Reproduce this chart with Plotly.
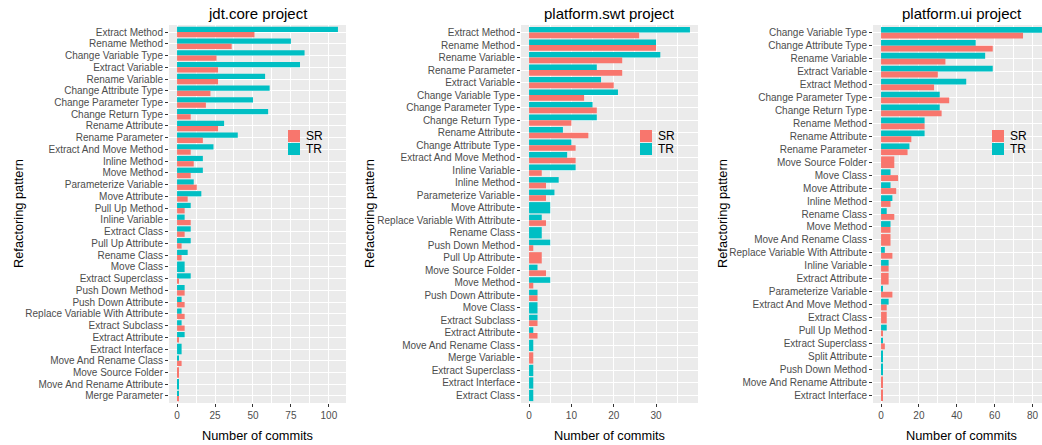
import plotly.graph_objects as go

W, H = 1042, 445
FONT = "Liberation Sans, Arial, Helvetica, sans-serif"
SR_COLOR = "#F8766D"
TR_COLOR = "#00BFC4"
PANEL_BG = "#EBEBEB"
TEXT_GREY = "#4D4D4D"
TICK_GREY = "#333333"

# ---- jdt.core ----
jdt_patterns = [
    "Extract Method", "Rename Method", "Change Variable Type", "Extract Variable",
    "Rename Variable", "Change Attribute Type", "Change Parameter Type",
    "Change Return Type", "Rename Attribute", "Rename Parameter",
    "Extract And Move Method", "Inline Method", "Move Method",
    "Parameterize Variable", "Move Attribute", "Pull Up Method", "Inline Variable",
    "Extract Class", "Pull Up Attribute", "Rename Class", "Move Class",
    "Extract Superclass", "Push Down Method", "Push Down Attribute",
    "Replace Variable With Attribute", "Extract Subclass", "Extract Attribute",
    "Extract Interface", "Move And Rename Class", "Move Source Folder",
    "Move And Rename Attribute", "Merge Parameter",
]
jdt_tr = [106, 75, 84, 81, 58, 61, 50, 60, 31, 40, 24, 17, 17, 11, 16, 9, 5,
          9, 9, 7, 5, 9, 5, 3, 3, 3, 5, 3, 1, None, 1, 1]
jdt_sr = [51, 36, 26, 27, 27, 22, 19, 9, 27, 17, 9, 11, 9, 13, 7, 5, 9,
          5, 3, 3, None, 1, 5, 5, 5, 5, 1, None, 3, 1, None, 1]

# ---- platform.swt ----
swt_patterns = [
    "Extract Method", "Rename Method", "Rename Variable", "Rename Parameter",
    "Extract Variable", "Change Variable Type", "Change Parameter Type",
    "Change Return Type", "Rename Attribute", "Change Attribute Type",
    "Extract And Move Method", "Inline Variable", "Inline Method",
    "Parameterize Variable", "Move Attribute", "Replace Variable With Attribute",
    "Rename Class", "Push Down Method", "Pull Up Attribute", "Move Source Folder",
    "Move Method", "Push Down Attribute", "Move Class", "Extract Subclass",
    "Extract Attribute", "Move And Rename Class", "Merge Variable",
    "Extract Superclass", "Extract Interface", "Extract Class",
]
swt_tr = [38, 30, 31, 16, 17, 21, 15, 16, 8, 10, 9, 11, 7, 6, 5, 3, 3, 5,
          None, 2, 5, 2, 2, 2, 1, 1, None, 1, 1, 1]
swt_sr = [26, 30, 22, 22, 20, 13, 16, 10, 14, 11, 11, 3, 4, 4, None, 4, None, 1,
          3, 4, 1, 2, None, 2, 2, None, 1, None, None, None]

# ---- platform.ui ----
ui_patterns = [
    "Change Variable Type", "Change Attribute Type", "Rename Variable",
    "Extract Variable", "Extract Method", "Change Parameter Type",
    "Change Return Type", "Rename Method", "Rename Attribute", "Rename Parameter",
    "Move Source Folder", "Move Class", "Move Attribute", "Inline Method",
    "Rename Class", "Move Method", "Move And Rename Class",
    "Replace Variable With Attribute", "Inline Variable", "Extract Attribute",
    "Parameterize Variable", "Extract And Move Method", "Extract Class",
    "Pull Up Method", "Extract Superclass", "Split Attribute", "Push Down Method",
    "Move And Rename Attribute", "Extract Interface",
]
ui_tr = [85, 50, 55, 59, 45, 31, 31, 23, 23, 15, None, 5, 5, 6, 3, 5, None, 2,
         4, None, 1, 4, None, 3, 1, 1, 1, None, None]
ui_sr = [75, 59, 34, 30, 28, 36, 32, 23, 16, 14, 7, 9, 8, 5, 7, 5, 5, 6,
         4, 4, 6, 3, 3, 1, 2, None, None, 1, 1]

panels = [
    dict(title="jdt.core project", patterns=jdt_patterns, tr=jdt_tr, sr=jdt_sr,
         dtick=25, left=169, ytitle_x=18),
    dict(title="platform.swt project", patterns=swt_patterns, tr=swt_tr, sr=swt_sr,
         dtick=10, left=521, ytitle_x=369),
    dict(title="platform.ui project", patterns=ui_patterns, tr=ui_tr, sr=ui_sr,
         dtick=20, left=873, ytitle_x=722),
]

PANEL_W = 177
PANEL_TOP, PANEL_BOTTOM = 25, 403
DODGE = 0.9


def px_x(p):
    return p / W


def px_y(p):
    return 1 - p / H


def dodge(this, other, upper):
    """Side-by-side bars within a row; a series with no partner fills the row."""
    offsets, widths = [], []
    for _, b in zip(this, other):
        if b is None:
            offsets.append(-DODGE / 2)
            widths.append(DODGE)
        else:
            offsets.append(-DODGE / 2 if upper else 0.0)
            widths.append(DODGE / 2)
    return offsets, widths


fig = go.Figure()
annotations = []
shapes = []
axes = {}

for k, p in enumerate(panels, start=1):
    n = len(p["patterns"])
    xa = "x" if k == 1 else f"x{k}"
    ya = "y" if k == 1 else f"y{k}"
    xkey = "xaxis" if k == 1 else f"xaxis{k}"
    ykey = "yaxis" if k == 1 else f"yaxis{k}"

    tr_off, tr_w = dodge(p["tr"], p["sr"], True)
    sr_off, sr_w = dodge(p["sr"], p["tr"], False)
    fig.add_trace(go.Bar(
        y=p["patterns"], x=p["tr"], orientation="h", name="TR",
        offset=tr_off, width=tr_w,
        marker=dict(color=TR_COLOR, line=dict(width=0)),
        xaxis=xa, yaxis=ya, showlegend=False,
    ))
    fig.add_trace(go.Bar(
        y=p["patterns"], x=p["sr"], orientation="h", name="SR",
        offset=sr_off, width=sr_w,
        marker=dict(color=SR_COLOR, line=dict(width=0)),
        xaxis=xa, yaxis=ya, showlegend=False,
    ))

    m = max(v for v in p["tr"] + p["sr"] if v is not None)
    lo, hi = -0.05 * m, 1.05 * m
    left, right = p["left"], p["left"] + PANEL_W
    center = (left + right) / 2
    if right > W:
        hi = lo + (hi - lo) * (W - left) / (right - left)
        right = W

    axes[xkey] = dict(
        domain=[px_x(left), px_x(right)], range=[lo, hi], anchor=ya,
        tick0=0, dtick=p["dtick"], ticks="outside", ticklen=3, tickwidth=1,
        tickcolor=TICK_GREY, tickfont=dict(size=10, color=TEXT_GREY, family=FONT),
        showgrid=True, gridcolor="white", gridwidth=1.1,
        minor=dict(dtick=p["dtick"] / 2, showgrid=True, gridcolor="white",
                   gridwidth=0.55),
        zeroline=False, showline=False,
    )
    axes[ykey] = dict(
        domain=[px_y(PANEL_BOTTOM), px_y(PANEL_TOP)], anchor=xa,
        type="category", categoryorder="array", categoryarray=p["patterns"],
        tickmode="array", tickvals=p["patterns"], ticktext=p["patterns"],
        range=[n - 0.4, -0.6], ticks="outside", ticklen=3, tickwidth=1,
        tickcolor=TICK_GREY, tickfont=dict(size=10, color=TEXT_GREY, family=FONT),
        showgrid=True, gridcolor="white", gridwidth=1.1,
        zeroline=False, showline=False,
    )

    # panel title, axis titles
    annotations.append(dict(
        text=p["title"], x=px_x(center), y=px_y(14), xref="paper", yref="paper",
        xanchor="center", yanchor="middle", showarrow=False,
        font=dict(size=15, color="black", family=FONT),
    ))
    annotations.append(dict(
        text="Number of commits", x=px_x(center), y=px_y(435), xref="paper",
        yref="paper", xanchor="center", yanchor="middle", showarrow=False,
        font=dict(size=12.8, color="black", family=FONT),
    ))
    annotations.append(dict(
        text="Refactoring pattern", x=px_x(p["ytitle_x"]),
        y=px_y((PANEL_TOP + PANEL_BOTTOM) / 2), xref="paper", yref="paper",
        xanchor="center", yanchor="middle", textangle=-90, showarrow=False,
        font=dict(size=12.8, color="black", family=FONT),
    ))

    # legend inside the panel
    key_left = left + 119
    for j, (label, color) in enumerate([("SR", SR_COLOR), ("TR", TR_COLOR)]):
        top = 130 + 13 * j
        shapes.append(dict(
            type="rect", xref="paper", yref="paper",
            x0=px_x(key_left), x1=px_x(key_left + 12),
            y0=px_y(top + 12), y1=px_y(top),
            fillcolor=color, line=dict(width=0), layer="above",
        ))
        annotations.append(dict(
            text=label, x=px_x(key_left + 17), y=px_y(top + 6),
            xref="paper", yref="paper", xanchor="left", yanchor="middle",
            showarrow=False, borderpad=0,
            font=dict(size=12, color="black", family=FONT),
        ))

fig.update_layout(
    width=W, height=H, margin=dict(l=0, r=0, t=0, b=0),
    paper_bgcolor="white", plot_bgcolor=PANEL_BG,
    barmode="overlay", showlegend=False,
    font=dict(family=FONT, color="black"),
    annotations=annotations, shapes=shapes,
    **axes,
)

fig.write_html("out.html")
